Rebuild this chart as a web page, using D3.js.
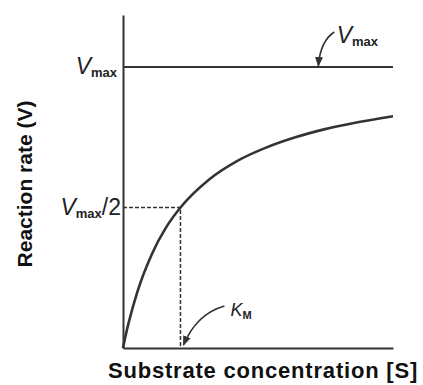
<!DOCTYPE html>
<html>
<head>
<meta charset="utf-8">
<script src="https://cdn.jsdelivr.net/npm/d3@7"></script>
<style>
  body { margin: 0; background: #fff; }
  svg { display: block; }
</style>
</head>
<body>
<script>
// substrate concentration in units of Km, rate in units of Vmax
var substrate = [0, 0.05, 0.1, 0.25, 0.5, 0.75, 1, 1.5, 2, 2.5, 3, 3.5, 4, 4.7];
var rate      = [0, 0.048, 0.091, 0.2, 0.333, 0.429, 0.5, 0.6, 0.667, 0.714, 0.75, 0.778, 0.8, 0.825];
var vmax = 1, km = 1;

var w = 423, h = 385;
var color = '#333';
var font = 'Liberation Sans, Arial, sans-serif';

var svg = d3.select('body')
  .append('svg')
  .attr('width', w)
  .attr('height', h);

var x = d3.scaleLinear().domain([0, 4.7]).range([123, 393]);
var y = d3.scaleLinear().domain([0, 1.185]).range([348, 15]);

// arrowhead
svg.append('defs').append('marker')
  .attr('id', 'arrow')
  .attr('viewBox', '0 0 10 10')
  .attr('refX', 9).attr('refY', 5)
  .attr('markerWidth', 10).attr('markerHeight', 10)
  .attr('markerUnits', 'userSpaceOnUse')
  .attr('orient', 'auto')
  .append('path')
  .attr('d', 'M0,1 L10,5 L0,9 Z')
  .attr('fill', color);

// axes, no ticks
svg.append('g')
  .attr('transform', 'translate(0,' + y(0) + ')')
  .call(d3.axisBottom(x).tickValues([]).tickSizeOuter(0));
svg.append('g')
  .attr('transform', 'translate(' + x(0) + ',0)')
  .call(d3.axisLeft(y).tickValues([]).tickSizeOuter(0));
svg.selectAll('.domain')
  .attr('stroke', color)
  .attr('stroke-width', 2);

// Vmax line
svg.append('line')
  .attr('x1', x(0)).attr('x2', x(4.7))
  .attr('y1', y(vmax)).attr('y2', y(vmax))
  .attr('stroke', color).attr('stroke-width', 2);

// dashed guides for Vmax/2 and Km
svg.append('path')
  .attr('d', 'M' + x(0) + ',' + y(vmax / 2) + 'H' + x(km) + 'V' + y(0))
  .attr('fill', 'none')
  .attr('stroke', color)
  .attr('stroke-width', 1.5)
  .attr('stroke-dasharray', '4,2');

// saturation curve
var pts = substrate.map(function (s, i) { return [s, rate[i]]; });
svg.append('path')
  .datum(pts)
  .attr('d', d3.line()
    .x(function (d) { return x(d[0]); })
    .y(function (d) { return y(d[1]); })
    .curve(d3.curveMonotoneX))
  .attr('fill', 'none')
  .attr('stroke', color)
  .attr('stroke-width', 2.6);

// annotation arrows
var ax = x(3.4), ay = y(vmax);
svg.append('path')
  .attr('d', 'M' + (ax + 16) + ',' + (ay - 35) + ' Q' + (ax + 2) + ',' + (ay - 26) + ' ' + ax + ',' + (ay - 1))
  .attr('fill', 'none').attr('stroke', color).attr('stroke-width', 1.6)
  .attr('marker-end', 'url(#arrow)');

var kx = x(km), ky = y(0);
svg.append('path')
  .attr('d', 'M' + (kx + 44) + ',' + (ky - 42) + ' Q' + (kx + 16) + ',' + (ky - 34) + ' ' + (kx + 3) + ',' + (ky - 3))
  .attr('fill', 'none').attr('stroke', color).attr('stroke-width', 1.6)
  .attr('marker-end', 'url(#arrow)');

// labels
function vLabel(tx, ty, sub, tail, anchor) {
  var t = svg.append('text')
    .attr('x', tx).attr('y', ty)
    .attr('font-family', font)
    .attr('fill', '#222')
    .attr('text-anchor', anchor || 'start');
  t.append('tspan').attr('font-size', 23).attr('font-style', 'italic').text('V');
  t.append('tspan').attr('font-size', 13).attr('font-weight', 'bold').attr('dy', 3).text('max');
  if (tail) t.append('tspan').attr('font-size', 23).attr('dy', -3).text(tail);
  return t;
}
vLabel(x(0) - 6, y(vmax) + 7, 'max', null, 'end');
vLabel(x(0) - 2, y(vmax / 2) + 8, 'max', '/2', 'end');
vLabel(x(3.72), y(vmax) - 24, 'max', null, 'start');

var kt = svg.append('text')
  .attr('x', x(km) + 50).attr('y', y(0) - 32)
  .attr('font-family', font)
  .attr('fill', '#222');
kt.append('tspan').attr('font-size', 18).attr('font-style', 'italic').text('K');
kt.append('tspan').attr('font-size', 11).attr('font-weight', 'bold').attr('dy', 3).text('M');

svg.append('text')
  .attr('x', 263).attr('y', 378)
  .attr('text-anchor', 'middle')
  .attr('font-family', font)
  .attr('font-weight', 'bold')
  .attr('font-size', 22)
  .attr('letter-spacing', 0.8)
  .attr('fill', '#111')
  .text('Substrate concentration [S]');

svg.append('text')
  .attr('transform', 'translate(32,184) rotate(-90)')
  .attr('text-anchor', 'middle')
  .attr('font-family', font)
  .attr('font-weight', 'bold')
  .attr('font-size', 21)
  .attr('fill', '#111')
  .text('Reaction rate (V)');
</script>
</body>
</html>
